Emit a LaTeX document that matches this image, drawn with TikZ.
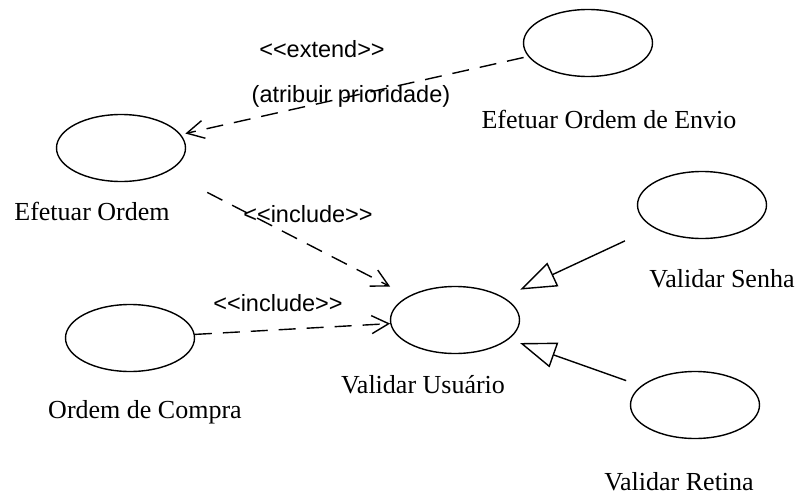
\documentclass[tikz,border=0pt]{standalone}
\usepackage{fontspec}
\setmainfont{Liberation Serif}
\newfontfamily\stereofont{Liberation Sans}
\usetikzlibrary{shapes.geometric,arrows.meta}
\begin{document}
\begin{tikzpicture}[x=1pt,y=-1pt,
 uc/.style={ellipse, draw, line width=1.4pt, minimum width=129pt, minimum height=67pt, inner sep=0pt},
 lbl/.style={anchor=base, font=\fontsize{26}{26}\selectfont, inner sep=0pt},
 st/.style={anchor=base, font=\stereofont\fontsize{23.5}{24}\selectfont, inner sep=0pt},
 dep/.style={draw, line width=1.4pt, dash pattern=on 17pt off 11pt, -{Straight Barb[length=17pt,width=18pt,line width=1.4pt]}},
 gen/.style={draw, line width=1.4pt, -{Triangle[open,length=36pt,width=26pt,line width=1.4pt]}}
]
\useasboundingbox (0,0) rectangle (803,495);
\node[uc] (eo) at (121,148) {};
\node[uc] (env) at (588,43) {};
\node[uc] (vu) at (455,320) {};
\node[uc] (oc) at (130,338) {};
\node[uc] (vs) at (702,205) {};
\node[uc] (vr) at (695,405) {};

\node[lbl] (eot) at (92,220) {Efetuar Ordem};
\node[lbl] (envt) at (609,128) {Efetuar Ordem de Envio};
\node[lbl] (vut) at (423,393) {Validar Usuário};
\node[lbl] (oct) at (145,418) {Ordem de Compra};
\node[lbl] (vst) at (722,287) {Validar Senha};
\node[lbl] (vrt) at (679,490) {Validar Retina};

\node[st] (ext) at (322,58) {<<extend>>};
\node[st] (atr) at (351,102) {(atribuir prioridade)};
\node[st] (inc1) at (308,222) {<<include>>};
\node[st] (inc2) at (278,311) {<<include>>};

\draw[dep, shorten <=66pt, shorten >=66pt] (env.center) -- (eo.center);
\draw[dep, shorten <=97pt, shorten >=73pt] (eo.center) -- (vu.center);
\draw[dep] (oc) -- (vu);
\draw[gen, shorten <=85pt, shorten >=72pt] (vs.center) -- (vu.center);
\draw[gen, shorten <=73pt, shorten >=69pt] (vr.center) -- (vu.center);
\end{tikzpicture}
\end{document}
